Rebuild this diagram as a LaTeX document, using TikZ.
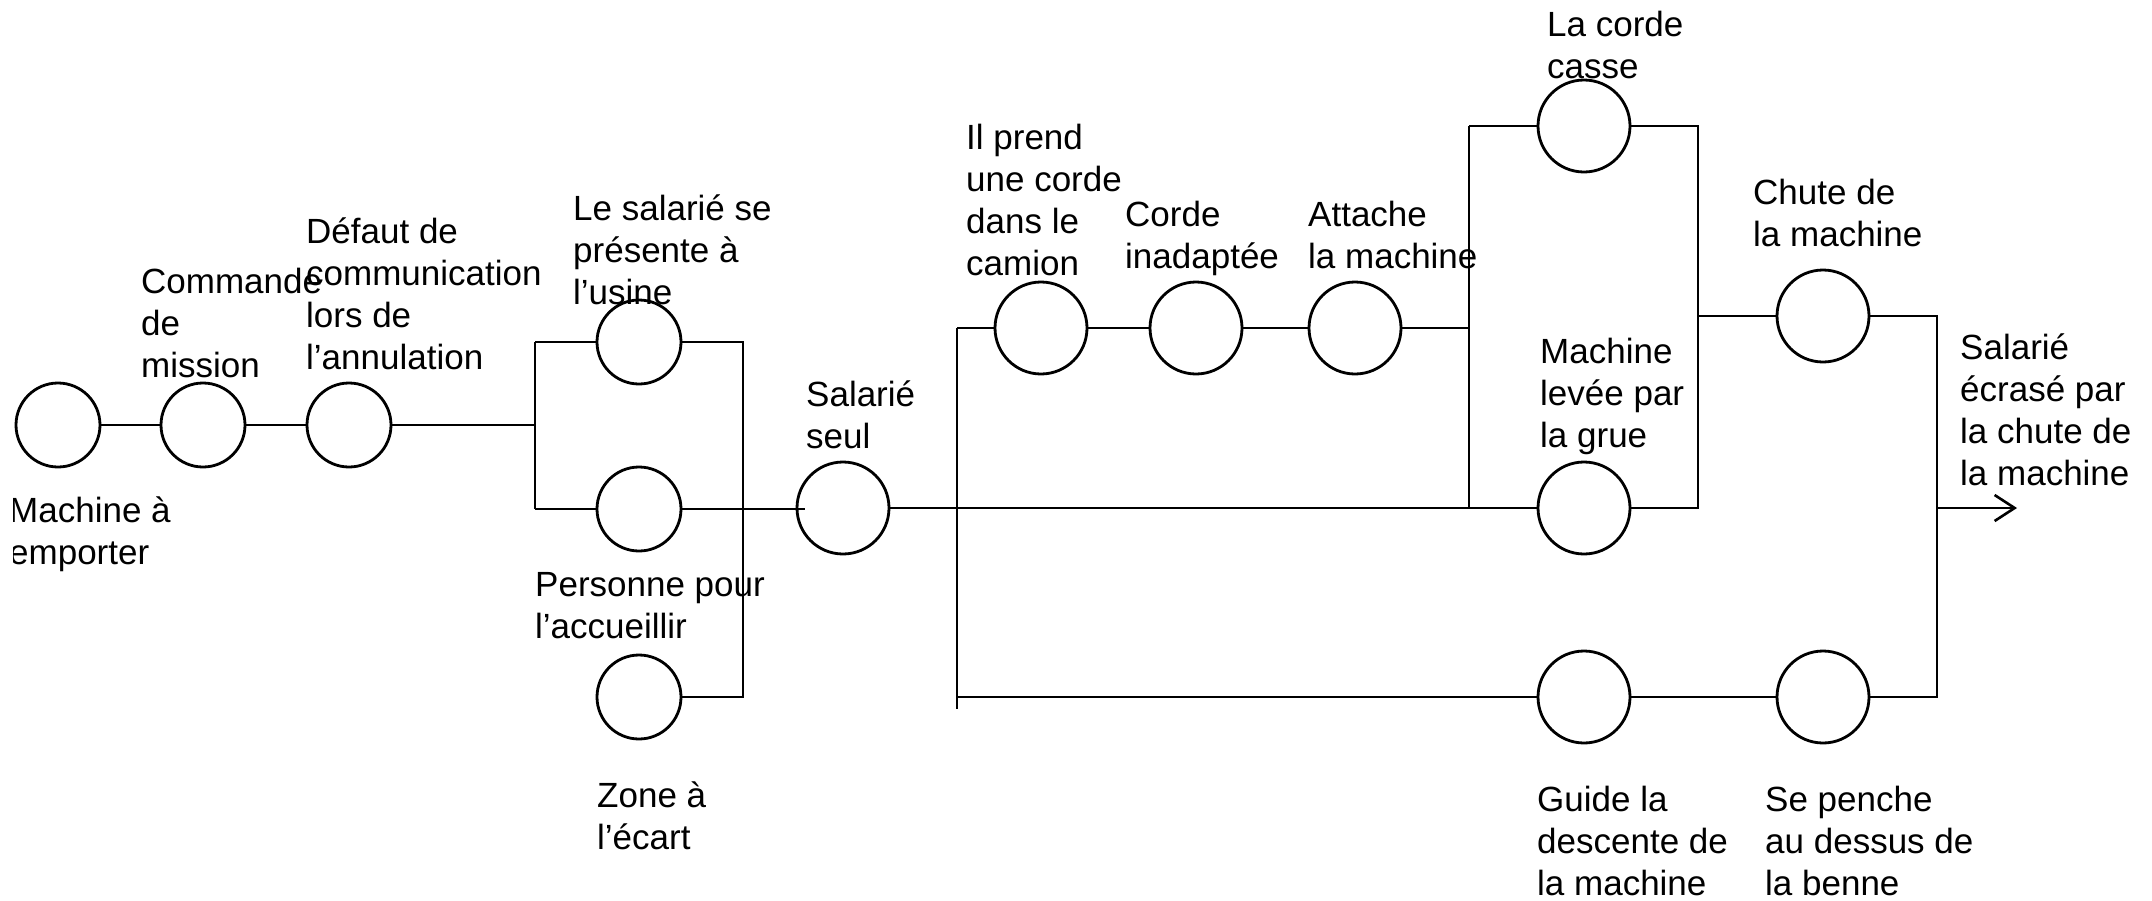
\documentclass[tikz,border=0pt]{standalone}
\usepackage{fontspec}
\setmainfont{Liberation Sans}
\usetikzlibrary{arrows.meta}
\tikzset{
  ev/.style={circle,draw,line width=2.8pt,minimum size=84pt,inner sep=0pt},
  evb/.style={ev,minimum size=92pt},
  lbl/.style={anchor=base west,align=left,inner sep=0pt,font=\fontsize{35}{42}\selectfont},
  wire/.style={line width=2.6pt},
}
\begin{document}
\begin{tikzpicture}[x=1pt,y=-1pt]
\useasboundingbox (0,0) rectangle (2152,900);
\clip (13,0) rectangle (2152,900);
% events
\node[ev] (c1) at (58,425) {};
\node[ev] (c2) at (203,425) {};
\node[ev] (c3) at (349,425) {};
\node[ev] (c4) at (639,342) {};
\node[ev] (c5) at (639,509) {};
\node[ev] (c6) at (639,697) {};
\node[evb] (c7) at (843,508) {};
\node[evb] (c8) at (1041,328) {};
\node[evb] (c9) at (1196,328) {};
\node[evb] (c10) at (1355,328) {};
\node[evb] (c11) at (1584,126) {};
\node[evb] (c12) at (1584,508) {};
\node[evb] (c13) at (1823,316) {};
\node[evb] (c14) at (1584,697) {};
\node[evb] (c15) at (1823,697) {};
% junctions
\coordinate (j1m) at (535,425);
\coordinate (j1t) at (535,342);
\coordinate (j1b) at (535,509);
\coordinate (j2t) at (743,342);
\coordinate (j2b) at (743,697);
\coordinate (c7in) at (805,509);
\coordinate (kt) at (957,328);
\coordinate (kb) at (957,709);
\coordinate (kl) at (957,697);
\coordinate (lm) at (1469,328);
\coordinate (lt) at (1469,126);
\coordinate (lb) at (1469,508);
\coordinate (mt) at (1698,126);
\coordinate (mb) at (1698,508);
\coordinate (mm) at (1698,316);
\coordinate (nt) at (1937,316);
\coordinate (nb) at (1937,697);
\coordinate (nm) at (1937,508);
\coordinate (aend) at (2017,508);
% connectors
\draw[wire] (c1) -- (c2);
\draw[wire] (c2) -- (c3);
\draw[wire] (c3) -- (j1m);
\draw[wire] (j1t) -- (j1b);
\draw[wire] (j1t) -- (c4);
\draw[wire] (j1b) -- (c5);
\draw[wire] (c4) -- (j2t) -- (j2b) -- (c6);
\draw[wire] (c5) -- (c7in);
\draw[wire] (c7) -- (c12);
\draw[wire] (kt) -- (kb);
\draw[wire] (kt) -- (c8);
\draw[wire] (c8) -- (c9);
\draw[wire] (c9) -- (c10);
\draw[wire] (c10) -- (lm);
\draw[wire] (lt) -- (lb);
\draw[wire] (lt) -- (c11);
\draw[wire] (c11) -- (mt) -- (mb) -- (c12);
\draw[wire] (mm) -- (c13);
\draw[wire] (c13) -- (nt) -- (nb) -- (c15);
\draw[wire] (c15) -- (c14);
\draw[wire] (c14) -- (kl);
\draw[wire,-{Straight Barb[length=20pt,width=26pt]}] (nm) -- (aend);
% labels (anchor = baseline of the last line)
\node[lbl] (t1) at (9,564) {Machine à\\emporter};
\node[lbl] (t2) at (141,377) {Commande\\de\\mission};
\node[lbl] (t3) at (306,369) {Défaut de\\communication\\lors de\\l’annulation};
\node[lbl] (t4) at (573,304) {Le salarié se\\présente à\\l’usine};
\node[lbl] (t5) at (535,638) {Personne pour\\l’accueillir};
\node[lbl] (t6) at (597,849) {Zone à\\l’écart};
\node[lbl] (t7) at (806,448) {Salarié\\seul};
\node[lbl] (t8) at (966,275) {Il prend\\une corde\\dans le\\camion};
\node[lbl] (t9) at (1125,268) {Corde\\inadaptée};
\node[lbl] (t10) at (1308,268) {Attache\\la machine};
\node[lbl] (t11) at (1547,78) {La corde\\casse};
\node[lbl] (t12) at (1540,447) {Machine\\levée par\\la grue};
\node[lbl] (t13) at (1753,246) {Chute de\\la machine};
\node[lbl] (t14) at (1960,485) {Salarié\\écrasé par\\la chute de\\la machine};
\node[lbl] (t15) at (1537,895) {Guide la\\descente de\\la machine};
\node[lbl] (t16) at (1765,895) {Se penche\\au dessus de\\la benne};
\end{tikzpicture}
\end{document}
